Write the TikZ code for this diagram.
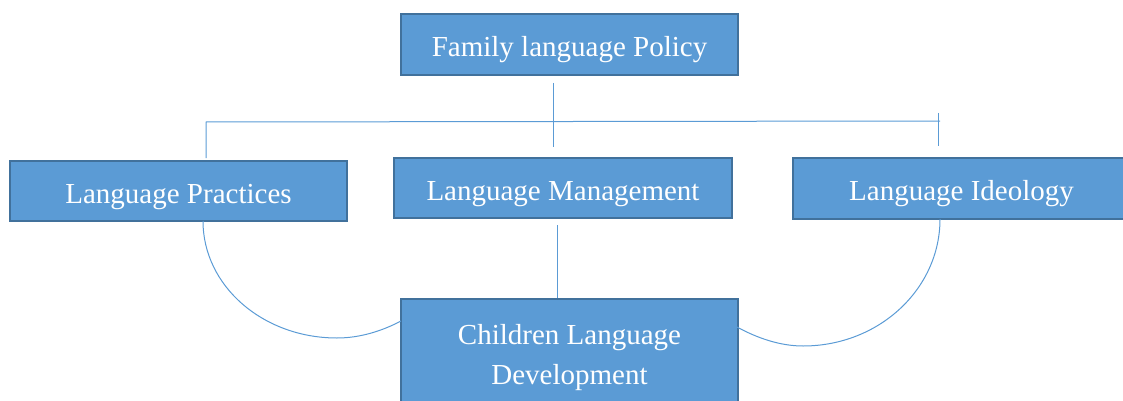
\documentclass[tikz,border=0pt]{standalone}
\usepackage{fontspec}
\setmainfont{Liberation Serif}
\definecolor{boxfill}{HTML}{5B9BD5}
\definecolor{boxline}{HTML}{41719C}
\begin{document}
\begin{tikzpicture}[x=1pt,y=-1pt,
  box/.style={draw=boxline, line width=2pt, fill=boxfill, text=white,
    font=\fontsize{29}{40}\selectfont, inner sep=0pt, align=center},
  oneline/.style={text height=24pt, text depth=0pt},
  conn/.style={draw=boxfill, line width=1pt}]
\useasboundingbox (0,0) rectangle (1123,401);
\clip (0,0) rectangle (1123,401);
% boxes
\node[box, oneline, minimum width=337pt, minimum height=61pt] (flp) at (569.5,44.5) {Family language Policy};
\node[box, oneline, minimum width=337pt, minimum height=60pt] (lp) at (178.5,191) {Language Practices};
\node[box, oneline, minimum width=338pt, minimum height=60pt] (lm) at (563,188) {Language Management};
\node[box, oneline, minimum width=337pt, minimum height=61pt] (li) at (961.5,188.5) {Language Ideology};
\node[box, minimum width=337pt, minimum height=118pt] (cld) at (569.5,358) {Children Language\\Development};
% named coordinates for free ends
\coordinate (vA) at (553,83);
\coordinate (vB) at (553,147);
\coordinate (hL) at (206,122);
\coordinate (hLd) at (206,158);
\coordinate (hR) at (940,121);
\coordinate (tT) at (938,113);
\coordinate (tB) at (938,146);
\coordinate (mA) at (557,225);
\coordinate (lpA) at (203,221);
\coordinate (cldL) at (401,321);
\coordinate (liA) at (940,219);
\coordinate (cldR) at (737,327);
% connectors
\draw[conn] (vA) -- (vB);
\draw[conn] (hLd) -- (hL) -- (hR);
\draw[conn] (tT) -- (tB);
\draw[conn] (mA) -- (mA |- cld.north);
\draw[conn] (lpA) .. controls (203,286) and (263,338) .. (337,338)
  .. controls (360,338) and (382,331) .. (cldL);
\draw[conn] (liA) .. controls (940,289) and (879,346) .. (803,346)
  .. controls (780,346) and (757,338) .. (cldR);
\end{tikzpicture}
\end{document}
